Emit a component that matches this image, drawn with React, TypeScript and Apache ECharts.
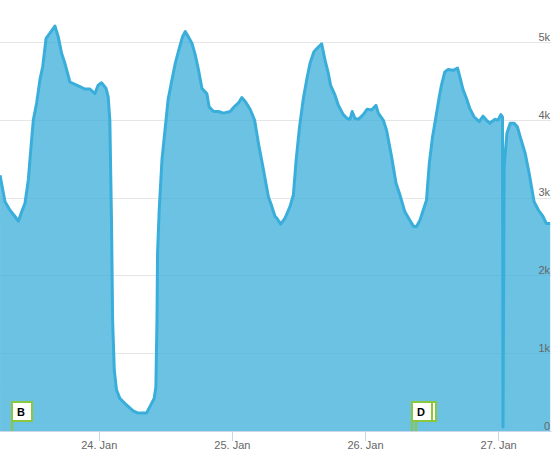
import React, { useEffect, useRef } from "react";
import * as echarts from "echarts";

// Hours since 23. Jan 00:00
const hours = [
  6.1, 7.0, 7.9, 8.8, 9.4, 10.0, 10.6, 11.2, 11.6, 12.1, 12.7, 13.3, 13.8, 14.4, 15.1, 16.0, 16.6, 17.2, 17.8,
  18.7, 19.6, 20.5, 21.4, 22.3, 23.2, 23.8, 24.4, 25.2, 25.6, 25.9, 26.2, 26.4, 26.7, 27.1, 27.7, 28.9, 30.1,
  31.0, 32.5, 33.1, 33.9, 34.2, 34.4, 34.5, 34.8, 35.3, 35.9, 36.4, 37.1, 37.7, 38.4, 39.0, 39.5, 40.0, 40.7,
  41.3, 41.9, 42.5, 43.4, 43.8, 44.6, 45.5, 46.4, 47.6, 48.3, 49.1, 49.7, 50.3, 51.2, 52.0, 52.7, 53.6, 54.5,
  55.1, 55.7, 56.0, 56.7, 57.5, 58.4, 59.0, 59.5, 60.1, 60.8, 61.4, 62.0, 62.7, 63.5, 64.1, 64.7, 65.3, 65.7,
  66.5, 67.1, 68.0, 68.7, 69.2, 69.6, 70.1, 70.7, 71.6, 72.3, 73.1, 73.9, 74.3, 75.2, 75.8, 76.7, 77.5, 78.2,
  79.1, 80.0, 80.7, 81.2, 81.8, 82.4, 83.0, 83.5, 84.1, 84.7, 85.3, 85.7, 86.3, 86.9, 87.8, 88.6, 89.0, 89.6,
  90.2, 90.8, 91.6, 92.5, 93.2, 93.8, 94.4, 95.3, 95.9, 96.4, 96.7, 96.8, 97.0, 97.5, 98.1, 98.8, 99.4, 100.0,
  100.8, 101.5, 102.4, 103.2, 104.0, 104.6, 105.3,
];
const values = [
  3290, 2950, 2840, 2760, 2700, 2820, 2930, 3230, 3580, 4000, 4220, 4520, 4690, 5050, 5120, 5210, 5070, 4860, 4730,
  4490, 4460, 4430, 4400, 4400, 4340, 4450, 4480, 4410, 4300, 4000, 2710, 1430, 785, 530, 420, 335, 260,
  230, 230, 310, 420, 570, 1430, 2290, 2840, 3490, 3910, 4260, 4520, 4730, 4920, 5070, 5140, 5080, 4990,
  4840, 4640, 4410, 4340, 4170, 4110, 4110, 4090, 4110, 4170, 4220, 4290, 4240, 4140, 4000, 3700, 3360, 3010,
  2890, 2760, 2740, 2660, 2740, 2890, 3040, 3490, 3910, 4280, 4520, 4730, 4880, 4940, 4980, 4770, 4600, 4450,
  4320, 4190, 4070, 4020, 4010, 4110, 4020, 4010, 4070, 4140, 4130, 4190, 4090, 4000, 3870, 3530, 3190, 3040,
  2820, 2710, 2630, 2630, 2710, 2840, 2970, 3440, 3790, 4040, 4300, 4450, 4620, 4650, 4640, 4670, 4560, 4390,
  4280, 4150, 4040, 3980, 4050, 4000, 3960, 4010, 4000, 4070, 4040, 50, 3400, 3830, 3960, 3960, 3910, 3760,
  3570, 3320, 2950, 2840, 2760, 2670, 2670,
];

// Day ticks (hours since 23. Jan 00:00) and their labels
const dayTicks = [24, 48, 72, 96];
const dayLabels = ["24. Jan", "25. Jan", "26. Jan", "27. Jan"];

// Y axis ticks
const yTicks = [0, 1000, 2000, 3000, 4000, 5000];
const yLabels = ["0", "1k", "2k", "3k", "4k", "5k"];

// Flags (hours since 23. Jan 00:00)
const flagHours = [8.3, 81.1, 80.4];
const flagTitles = ["B", "", "D"];

const FONT = "Liberation Sans, Arial, Helvetica, sans-serif";

export default function App() {
  const ref = useRef<HTMLDivElement>(null);

  useEffect(() => {
    document.body.style.margin = "0";
    const chart = echarts.init(ref.current!, undefined, { renderer: "svg" });
    const green = "#8cc63f";
    const blue = "#3aaeda";
    const yBase = {
      type: "value",
      position: "right",
      min: 0,
      max: 5545,
      interval: 1000,
      axisLine: { show: false },
      axisTick: { show: false },
    };
    chart.setOption({
      animation: false,
      grid: { left: 0, right: 4, top: 0, bottom: 30 },
      xAxis: {
        type: "value",
        min: 6.094,
        max: 105.45,
        axisLine: { show: true, lineStyle: { color: "#ccd6eb", width: 1 } },
        axisTick: {
          show: true,
          length: 10,
          customValues: dayTicks,
          lineStyle: { color: "#ccd6eb", width: 1 },
        },
        axisLabel: {
          customValues: dayTicks,
          color: "#666666",
          fontSize: 11,
          fontFamily: FONT,
          margin: 8,
          formatter: (v: number) => {
            const i = dayTicks.indexOf(Math.round(v));
            return i >= 0 ? dayLabels[i] : "";
          },
        },
        splitLine: { show: false },
      },
      yAxis: [
        {
          ...yBase,
          axisLabel: { show: false },
          splitLine: {
            show: true,
            showMaxLine: false,
            lineStyle: { color: "#e6e6e6", width: 1 },
          },
        },
        {
          ...yBase,
          z: 10,
          splitLine: { show: false },
          axisLabel: {
            inside: true,
            margin: 1,
            color: "#666666",
            fontSize: 11,
            fontFamily: FONT,
            verticalAlign: "bottom",
            showMinLabel: true,
            showMaxLabel: false,
            formatter: (v: number) => {
              const i = yTicks.indexOf(v);
              return i >= 0 ? yLabels[i] : "";
            },
          },
        },
      ],
      series: [
        {
          type: "line",
          yAxisIndex: 0,
          data: hours.map((h, i) => [h, values[i]]),
          showSymbol: false,
          symbol: "none",
          lineStyle: { color: blue, width: 3, join: "round" },
          itemStyle: { color: blue },
          areaStyle: { color: blue, opacity: 0.75 },
          z: 2,
        },
        {
          type: "custom",
          z: 5,
          yAxisIndex: 0,
          data: flagHours.map((h, i) => [h, 0, i]),
          renderItem: (params: any, api: any) => {
            const p = api.coord([api.value(0), 0]);
            const x = Math.round(p[0]);
            const y = Math.round(p[1]);
            const title = flagTitles[params.dataIndex];
            return {
              type: "group",
              children: [
                {
                  type: "line",
                  shape: { x1: x, y1: y, x2: x, y2: y - 10 },
                  style: { stroke: green, lineWidth: 2 },
                },
                {
                  type: "rect",
                  shape: { x: x, y: y - 29, width: 20, height: 19 },
                  style: { fill: "#ffffff", stroke: green, lineWidth: 2 },
                },
                {
                  type: "text",
                  style: {
                    x: x + 5,
                    y: y - 19.5,
                    text: title,
                    fill: "#000000",
                    font: "bold 11px " + FONT,
                    textAlign: "left",
                    verticalAlign: "middle",
                  },
                },
              ],
            };
          },
        },
      ],
    });
    return () => chart.dispose();
  }, []);

  return <div ref={ref} style={{ width: 555, height: 461 }} />;
}
